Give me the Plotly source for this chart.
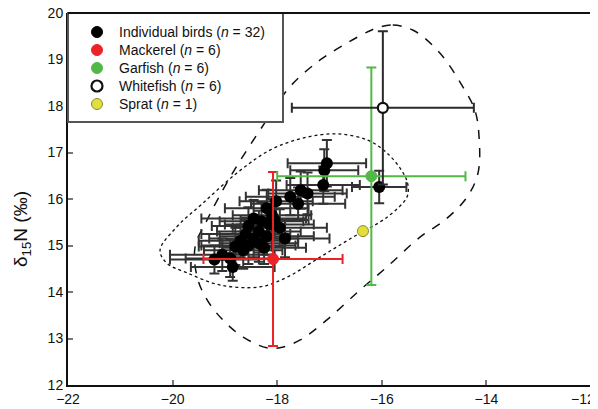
import plotly.graph_objects as go

# ---- Individual birds (n = 32): d13C, d15N, SD
bird_x = [-17.05, -17.10, -17.12, -17.55, -17.42, -16.05, -17.75, -18.02, -17.60, -18.20,
          -18.10, -18.45, -18.30, -18.15, -18.55, -17.95, -18.35, -18.60, -18.20, -18.45,
          -18.70, -18.35, -18.55, -18.80, -18.25, -18.65, -19.05, -18.90, -18.85, -19.20,
          -17.85, -18.05]
bird_y = [16.77, 16.62, 16.30, 16.19, 16.12, 16.26, 16.05, 15.95, 15.90, 15.80,
          15.65, 15.58, 15.52, 15.45, 15.42, 15.38, 15.30, 15.25, 15.20, 15.15,
          15.10, 15.05, 15.00, 14.98, 14.95, 14.90, 14.80, 14.72, 14.54, 14.70,
          15.15, 15.55]
bird_xerr = [0.75, 0.65, 0.70, 0.80, 0.75, 0.52, 0.85, 0.70, 0.90, 0.80,
             0.75, 1.00, 0.80, 0.85, 0.70, 0.90, 0.80, 0.85, 0.90, 0.85,
             0.80, 0.75, 0.90, 0.70, 0.80, 0.75, 1.00, 0.85, 0.80, 0.85,
             0.85, 0.65]
bird_yerr = [0.50, 0.45, 0.40, 0.40, 0.45, 0.35, 0.40, 0.45, 0.35, 0.40,
             0.35, 0.40, 0.40, 0.35, 0.40, 0.40, 0.45, 0.35, 0.40, 0.40,
             0.35, 0.40, 0.40, 0.40, 0.35, 0.40, 0.35, 0.40, 0.30, 0.30,
             0.40, 0.40]

# ---- Prey sources: mean and SD
src_names = ["Mackerel (<i>n</i> = 6)", "Garfish (<i>n</i> = 6)",
             "Whitefish (<i>n</i> = 6)", "Sprat (<i>n</i> = 1)"]
src_x = [-18.08, -16.20, -15.98, -16.36]
src_y = [14.71, 16.49, 17.96, 15.31]
src_xerr = [1.33, 1.80, 1.74, 0.0]
src_yerr = [1.87, 2.34, 1.65, 0.0]
src_fill = ["#ec2227", "#52b848", "#ffffff", "#e2df3a"]
src_line = ["#ec2227", "#52b848", "#111111", "#8a8a3a"]
src_err = ["#ec2227", "#52b848", "#2a2a2a", "#8a8a3a"]

# ---- Legend entries
legend_labels = ["Individual birds (<i>n</i> = 32)"] + src_names
legend_fill = ["#000000"] + src_fill
legend_line = ["#000000"] + src_line

# ---- Mixing polygon (dashed) and bird ellipse (dotted)
hull_x = [-16.09, -15.79, -15.40, -14.89, -14.45, -14.22, -14.14, -14.16, -14.37, -14.79,
          -15.27, -15.90, -16.42, -17.05, -17.56, -17.95, -18.20, -18.65, -19.04, -19.34,
          -19.53, -19.57, -19.34, -18.90, -18.20, -17.76, -17.18, -16.67, -16.28, -16.09]
hull_y = [19.68, 19.74, 19.63, 19.14, 18.41, 17.91, 17.33, 16.56, 16.04, 15.55,
          15.18, 14.54, 14.04, 13.40, 12.97, 12.80, 12.80, 13.03, 13.40, 13.83,
          14.32, 14.97, 15.55, 16.47, 17.70, 18.41, 18.99, 19.35, 19.59, 19.68]
ell_x = [-20.24, -19.92, -19.42, -18.77, -18.14, -17.51, -16.86, -16.28, -15.90, -15.59,
         -15.50, -15.52, -15.90, -16.55, -17.18, -17.81, -18.33, -19.09, -19.72, -20.11,
         -20.24]
ell_y = [14.90, 15.40, 15.91, 16.56, 17.05, 17.31, 17.40, 17.27, 16.99, 16.56,
         16.30, 16.04, 15.61, 15.18, 14.75, 14.32, 14.11, 14.15, 14.41, 14.62,
         14.90]

x_ticks = [-22, -20, -18, -16, -14, -12]
x_ticktext = ["−22", "−20", "−18", "−16", "−14", ""]   # last label placed inside the page below
x_last_label = "−12"
y_ticks = [12, 13, 14, 15, 16, 17, 18, 19, 20]

# page has an 8px body margin; plot area on screen: x 68..591, y 13..385
OFF = 8
W, H = 598 - OFF, 409 - OFF
SL, ST, SR, SB = 68, 13, 591, 385          # screen coords of plot area
ML, MT = SL - OFF, ST - OFF
MR, MB = (OFF + W) - SR, (OFF + H) - SB
PW, PH = SR - SL, SB - ST


def px(x):
    return (x - SL) / PW


def py(y):
    return (SB - y) / PH


fig = go.Figure()

fig.add_trace(go.Scatter(x=hull_x, y=hull_y, mode="lines", showlegend=False,
                         line=dict(color="#111111", width=1.5, dash="dash", shape="spline", smoothing=1.0),
                         hoverinfo="skip"))
fig.add_trace(go.Scatter(x=ell_x, y=ell_y, mode="lines", showlegend=False,
                         line=dict(color="#111111", width=1.3, dash="dot", shape="spline", smoothing=1.0),
                         hoverinfo="skip"))

fig.add_trace(go.Scatter(
    x=bird_x, y=bird_y, mode="markers", showlegend=False,
    marker=dict(color="#000000", size=12),
    error_x=dict(type="data", array=bird_xerr, color="#333333", thickness=2, width=5),
    error_y=dict(type="data", array=bird_yerr, color="#333333", thickness=2, width=5),
))

for i in range(len(src_names)):
    has_err = src_xerr[i] > 0
    fig.add_trace(go.Scatter(
        x=[src_x[i]], y=[src_y[i]], mode="markers", showlegend=False,
        marker=dict(color=src_fill[i], size=11 if i != 2 else 10,
                    line=dict(color=src_line[i], width=2.2 if i == 2 else 1)),
        error_x=dict(type="data", array=[src_xerr[i]], color=src_err[i], thickness=2, width=5,
                     visible=has_err),
        error_y=dict(type="data", array=[src_yerr[i]], color=src_err[i], thickness=2, width=5,
                     visible=has_err),
    ))

shapes = []
# legend box
shapes.append(dict(type="rect", xref="paper", yref="paper", x0=px(68), x1=px(283),
                   y0=py(122), y1=py(13), fillcolor="white",
                   line=dict(color="#555555", width=2), layer="above"))
annotations = []
row_y = [32, 50, 68, 86, 104]
for i, lab in enumerate(legend_labels):
    r = 5.5
    shapes.append(dict(type="circle", xref="paper", yref="paper",
                       xsizemode="pixel", ysizemode="pixel",
                       xanchor=px(97), yanchor=py(row_y[i]),
                       x0=-r, x1=r, y0=-r, y1=r,
                       fillcolor=legend_fill[i],
                       line=dict(color=legend_line[i], width=2.2 if i == 3 else 1),
                       layer="above"))
    annotations.append(dict(text=lab, xref="paper", yref="paper", x=px(117), y=py(row_y[i]),
                            xanchor="left", yanchor="middle", showarrow=False,
                            font=dict(size=14, color="#111111")))

# top and right frame
shapes.append(dict(type="line", xref="paper", yref="paper", x0=0, x1=1, y0=1, y1=1,
                   line=dict(color="#111111", width=2)))
shapes.append(dict(type="line", xref="paper", yref="paper", x0=1, x1=1, y0=0, y1=1,
                   line=dict(color="#888888", width=1)))

annotations.append(dict(text="δ<sub>15</sub>N (‰)", xref="paper", yref="paper",
                        x=px(22), y=py(229), textangle=-90, showarrow=False,
                        xanchor="center", yanchor="middle", font=dict(size=19)))
annotations.append(dict(text=x_last_label, xref="paper", yref="paper",
                        x=px(597), y=py(399), xanchor="right", yanchor="middle",
                        showarrow=False, font=dict(size=14, color="#111111")))

fig.update_layout(
    width=W, height=H,
    margin=dict(l=ML, r=MR, t=MT, b=MB, autoexpand=False),
    paper_bgcolor="white", plot_bgcolor="white",
    font=dict(family="Liberation Sans, Arial, sans-serif", size=14, color="#111111"),
    showlegend=False,
    shapes=shapes, annotations=annotations,
)
fig.update_xaxes(range=[-22, -12], tickvals=x_ticks, ticktext=x_ticktext, ticks="inside", ticklen=5,
                 tickcolor="#777777", tickwidth=2, showline=True, linecolor="#111111",
                 linewidth=2, showgrid=False, zeroline=False, automargin=False,
                 ticklabeloverflow="allow")
fig.update_yaxes(range=[12, 20], tickvals=y_ticks, ticks="inside", ticklen=5,
                 tickcolor="#777777", tickwidth=2, showline=True, linecolor="#111111",
                 linewidth=2, showgrid=False, zeroline=False, automargin=False,
                 ticklabeloverflow="allow")

fig.write_html("out.html")
